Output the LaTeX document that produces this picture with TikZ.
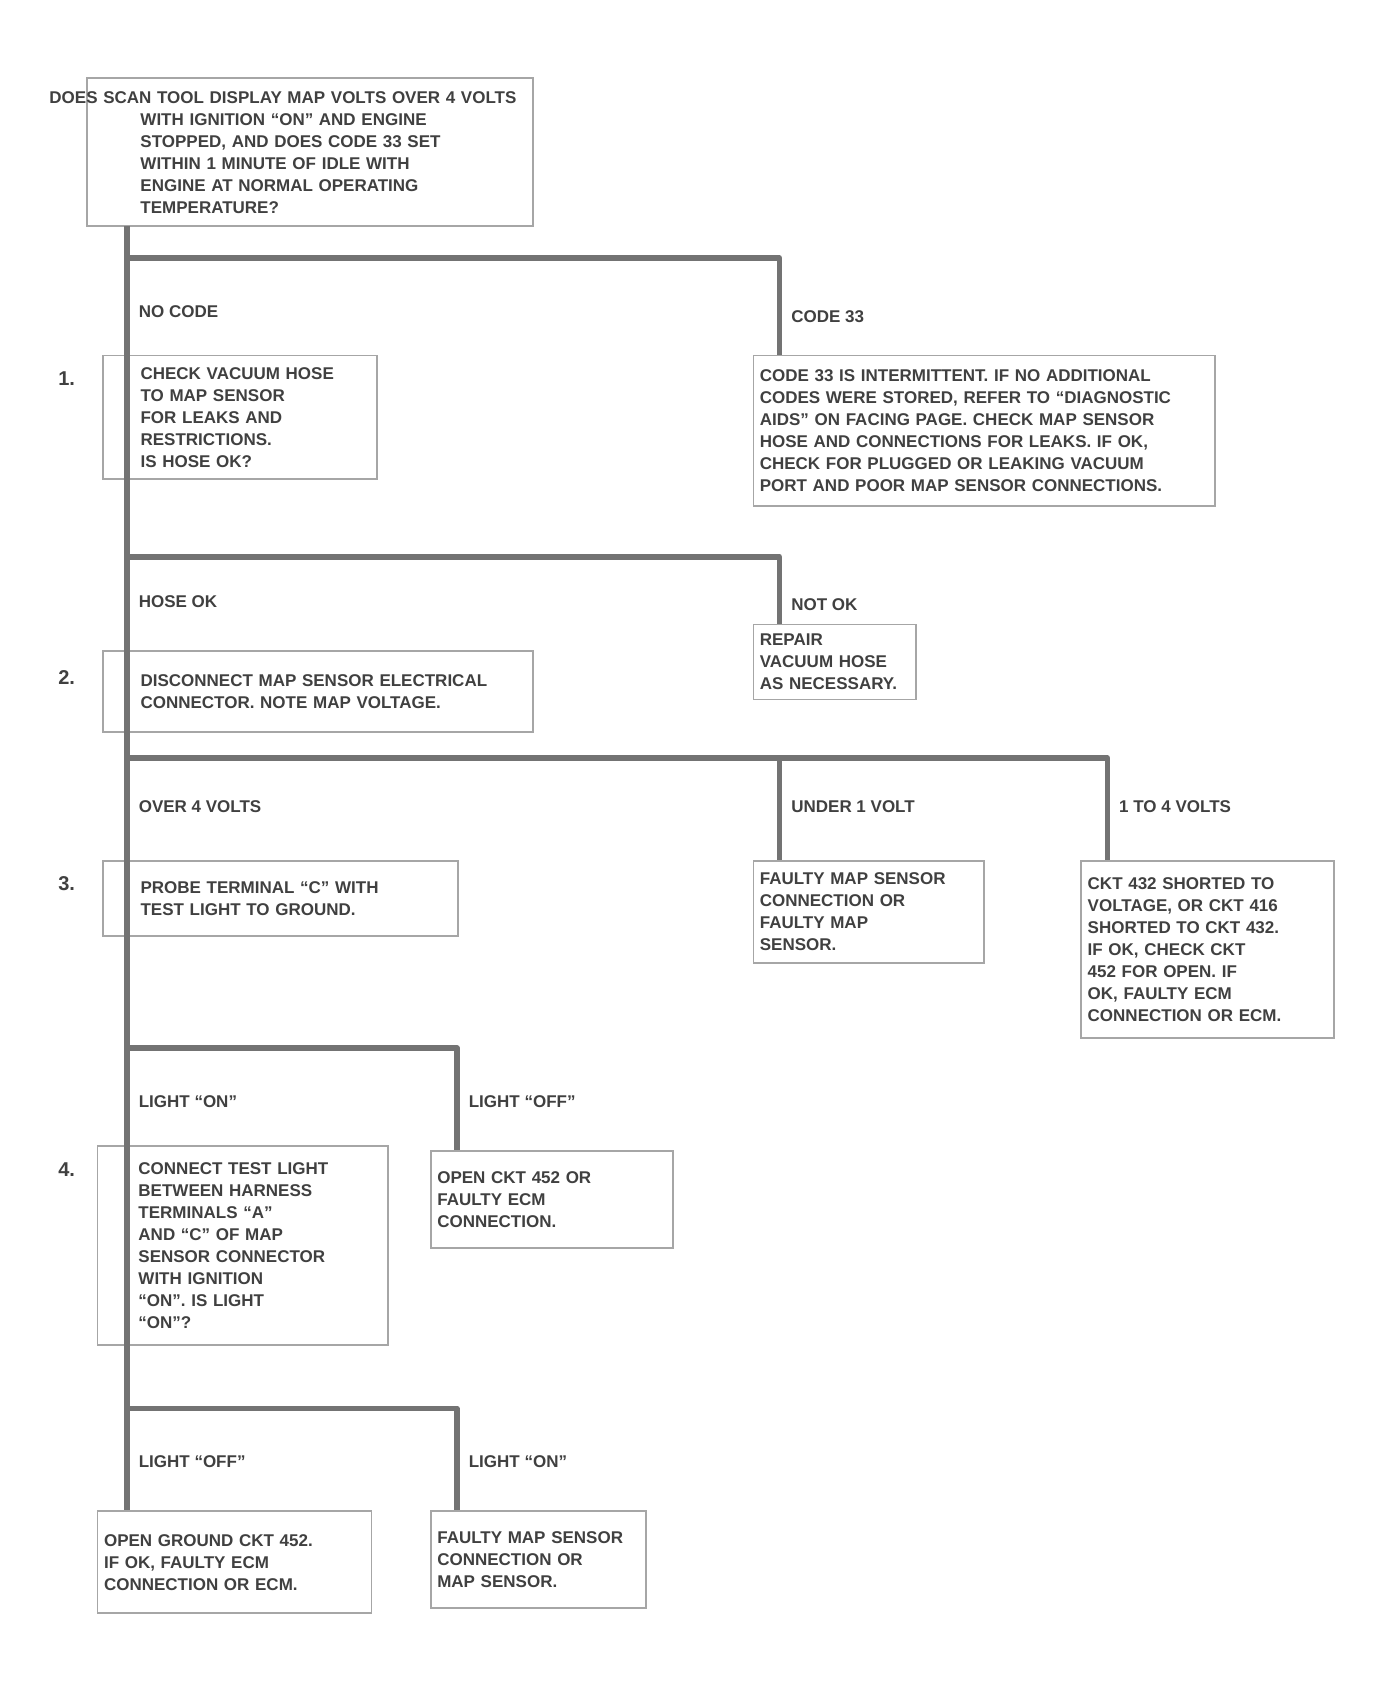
\documentclass[tikz,border=0pt]{standalone}
\usepackage{fontspec}
\setmainfont{Liberation Sans}
\begin{document}
\begin{tikzpicture}[x=1.075pt,y=-1.075pt,
  txt/.style={font=\fontsize{17}{22}\selectfont\bfseries, text=black!75},
  box/.style={txt, draw=black!35, line width=1.7pt, anchor=north west, align=left, inner ysep=6pt},
  lbl/.style={txt, inner sep=1pt, anchor=west},
  num/.style={txt, font=\fontsize{20}{22}\selectfont\bfseries, inner sep=1pt},
  conn/.style={draw=black!55, line width=5.5pt, line join=round}]
\useasboundingbox[fill=white] (0,0) rectangle (1280,1573);

% boxes
\node[box, inner xsep=8.6pt, text width=429pt, minimum height=148pt] (B0) at (80,72)
 {\hspace*{-46pt}DOES SCAN TOOL DISPLAY MAP VOLTS OVER 4 VOLTS\\
  \hspace*{45pt}WITH IGNITION ``ON'' AND ENGINE\\
  \hspace*{45pt}STOPPED, AND DOES CODE 33 SET\\
  \hspace*{45pt}WITHIN 1 MINUTE OF IDLE WITH\\
  \hspace*{45pt}ENGINE AT NORMAL OPERATING\\
  \hspace*{45pt}TEMPERATURE?};
\node[box, inner xsep=37.6pt, text width=199pt, minimum height=123.6pt] (B1) at (95,330)
 {CHECK VACUUM HOSE\\TO MAP SENSOR\\FOR LEAKS AND\\RESTRICTIONS.\\IS HOSE OK?};
\node[box, inner xsep=6.45pt, text width=449pt, minimum height=150.5pt] (R1) at (700,330)
 {CODE 33 IS INTERMITTENT. IF NO ADDITIONAL\\
  CODES WERE STORED, REFER TO ``DIAGNOSTIC\\
  AIDS'' ON FACING PAGE. CHECK MAP SENSOR\\
  HOSE AND CONNECTIONS FOR LEAKS. IF OK,\\
  CHECK FOR PLUGGED OR LEAKING VACUUM\\
  PORT AND POOR MAP SENSOR CONNECTIONS.};
\node[box, inner xsep=37.6pt, text width=355pt, minimum height=80.6pt] (B2) at (95,605)
 {DISCONNECT MAP SENSOR ELECTRICAL\\CONNECTOR. NOTE MAP VOLTAGE.};
\node[box, inner xsep=6.45pt, text width=150pt, minimum height=75pt] (R2) at (700,580)
 {REPAIR\\VACUUM HOSE\\AS NECESSARY.};
\node[box, inner xsep=37.6pt, text width=279.5pt, minimum height=75pt] (B3) at (95,800)
 {PROBE TERMINAL ``C'' WITH\\TEST LIGHT TO GROUND.};
\node[box, inner xsep=6.45pt, text width=218pt, minimum height=102pt] (M3) at (700,800)
 {FAULTY MAP SENSOR\\CONNECTION OR\\FAULTY MAP\\SENSOR.};
\node[box, inner xsep=6.45pt, text width=240pt, minimum height=177pt] (R3) at (1005,800)
 {CKT 432 SHORTED TO\\VOLTAGE, OR CKT 416\\SHORTED TO CKT 432.\\IF OK, CHECK CKT\\452 FOR OPEN. IF\\OK, FAULTY ECM\\CONNECTION OR ECM.};
\node[box, inner xsep=40.85pt, text width=208.5pt, minimum height=199pt] (B4) at (90,1065)
 {CONNECT TEST LIGHT\\BETWEEN HARNESS\\TERMINALS ``A''\\AND ``C'' OF MAP\\SENSOR CONNECTOR\\WITH IGNITION\\``ON''. IS LIGHT\\``ON''?};
\node[box, inner xsep=6.45pt, text width=229pt, minimum height=97pt] (R4) at (400,1070)
 {OPEN CKT 452 OR\\FAULTY ECM\\CONNECTION.};
\node[box, inner xsep=6.45pt, text width=261pt, minimum height=102pt] (B5) at (90,1405)
 {OPEN GROUND CKT 452.\\IF OK, FAULTY ECM\\CONNECTION OR ECM.};
\node[box, inner xsep=6.45pt, text width=202pt, minimum height=97pt] (R5) at (400,1405)
 {FAULTY MAP SENSOR\\CONNECTION OR\\MAP SENSOR.};

% step numbers
\node[num] (n1) at (62,352) {1.};
\node[num] (n2) at (62,630) {2.};
\node[num] (n3) at (62,822) {3.};
\node[num] (n4) at (62,1088) {4.};

% junctions
\coordinate (j0) at (118,210);
\coordinate (j1) at (118,240);
\coordinate (k1) at (725,240);
\coordinate (j2) at (118,518);
\coordinate (k2) at (725,518);
\coordinate (j3) at (118,705);
\coordinate (k3) at (725,705);
\coordinate (m3) at (1030,705);
\coordinate (j4) at (118,975);
\coordinate (k4) at (425,975);
\coordinate (j5) at (118,1310);
\coordinate (k5) at (425,1310);

% connectors
\draw[conn] (j0) -- (j1) -- (j2) -- (j3) -- (j4) -- (j5) -- (j5 |- B5.north);
\draw[conn] (j1) -- (k1) -- (k1 |- R1.north);
\draw[conn] (j2) -- (k2) -- (k2 |- R2.north);
\draw[conn] (j3) -- (m3) -- (m3 |- R3.north);
\draw[conn] (k3) -- (k3 |- M3.north);
\draw[conn] (j4) -- (k4) -- (k4 |- R4.north);
\draw[conn] (j5) -- (k5) -- (k5 |- R5.north);

% branch labels
\node[lbl] (l1a) at (128,290) {NO CODE};
\node[lbl] (l1b) at (735,295) {CODE 33};
\node[lbl] (l2a) at (128,560) {HOSE OK};
\node[lbl] (l2b) at (735,562) {NOT OK};
\node[lbl] (l3a) at (128,750) {OVER 4 VOLTS};
\node[lbl] (l3b) at (735,750) {UNDER 1 VOLT};
\node[lbl] (l3c) at (1040,750) {1 TO 4 VOLTS};
\node[lbl] (l4a) at (128,1025) {LIGHT ``ON''};
\node[lbl] (l4b) at (435,1025) {LIGHT ``OFF''};
\node[lbl] (l5a) at (128,1360) {LIGHT ``OFF''};
\node[lbl] (l5b) at (435,1360) {LIGHT ``ON''};
\end{tikzpicture}
\end{document}
